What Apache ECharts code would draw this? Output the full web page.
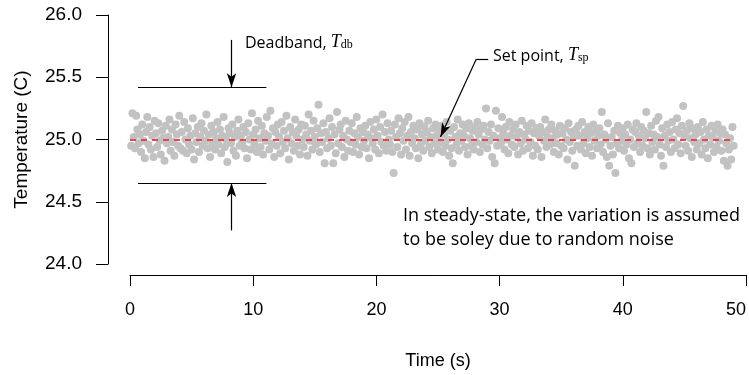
<!DOCTYPE html>
<html>
<head>
<meta charset="utf-8">
<script src="https://cdn.jsdelivr.net/npm/echarts@6/dist/echarts.min.js"></script>
<style>html,body{margin:0;padding:0;background:#fff}#c{width:749px;height:375px}</style>
</head>
<body>
<div id="c"></div>
<script>
// Sample interval of the time series (s); samples start at one interval
const sampleInterval = 0.1;
// Temperature readings (C), 10 per second
const temperature = [
24.95,25.21,25.02,24.93,25.19,25.08,24.97,25.04,24.90,25.12,
24.99,24.85,25.06,25.18,24.96,25.10,24.92,25.03,24.86,25.15,
25.05,24.94,25.13,24.99,24.88,25.07,25.01,24.83,25.11,24.97,
25.02,25.16,24.91,25.08,24.98,24.87,25.12,25.04,24.95,25.19,
24.93,25.06,24.91,25.14,25.00,24.89,25.09,24.96,25.03,24.92,
25.17,24.84,25.05,24.98,25.10,24.90,25.02,25.13,24.95,25.07,
24.99,25.20,24.93,25.04,24.86,25.11,24.97,25.06,24.92,25.01,
25.14,24.96,25.08,24.89,25.03,25.18,24.94,25.00,24.82,25.09,
25.05,24.97,25.12,24.91,25.02,24.87,25.07,25.16,24.95,25.03,
24.98,25.10,24.93,25.06,24.85,25.13,25.00,24.92,25.21,25.04,
24.96,25.08,24.90,25.15,25.01,24.94,25.11,24.88,25.05,24.99,
25.18,25.03,24.92,25.23,24.97,25.09,24.86,25.06,24.95,25.12,
25.02,24.89,25.14,24.98,25.07,24.93,25.19,25.01,24.84,25.10,
24.97,25.06,24.91,25.16,25.03,24.95,25.08,24.88,25.12,25.00,
24.94,25.11,25.04,24.87,25.20,24.99,25.07,24.92,25.15,25.02,
24.96,25.09,25.28,24.90,25.05,24.98,25.13,24.81,25.06,24.93,
25.01,25.17,24.95,25.10,24.81,25.04,24.89,25.22,24.97,25.08,
25.12,24.94,25.03,24.86,25.15,25.00,24.91,25.07,24.98,25.13,
24.90,25.05,24.96,25.18,25.02,24.88,25.09,24.94,25.06,24.99,
25.11,24.93,25.04,24.85,25.14,25.01,24.97,25.08,24.92,25.16,
25.03,24.89,25.10,24.98,25.20,24.95,25.06,24.91,25.13,25.00,
24.96,25.07,24.90,24.73,25.12,25.02,24.94,25.17,25.05,24.88,
25.09,24.99,25.14,24.92,25.03,25.18,24.87,25.06,24.97,25.11,
25.01,24.93,25.08,24.85,25.13,24.96,25.04,24.91,25.10,24.99,
25.06,25.15,24.94,25.02,24.89,25.09,24.97,25.12,25.03,24.92,
25.08,24.98,25.11,24.90,25.04,24.95,25.14,25.00,24.87,25.07,
24.93,24.81,25.10,25.02,24.96,25.16,24.91,25.05,24.99,25.12,
25.03,24.94,25.09,24.88,25.13,25.01,24.95,25.07,24.92,25.10,
24.98,25.14,25.04,24.90,25.08,24.96,25.11,25.00,25.25,24.93,
25.06,24.99,25.12,24.86,25.03,24.81,25.23,24.95,25.09,25.01,
24.97,25.18,25.05,24.92,25.10,25.00,24.89,25.14,25.03,24.96,
25.08,24.94,25.12,25.02,24.88,25.06,24.97,25.15,24.91,25.04,
25.00,25.11,24.93,25.07,24.98,25.13,24.87,25.05,24.95,25.09,
24.92,25.03,25.10,24.86,25.06,24.99,25.16,24.94,25.02,25.08,
24.96,25.12,25.01,24.90,25.07,24.97,25.04,24.88,25.11,24.95,
25.05,24.93,25.09,25.00,24.84,25.13,24.98,25.06,24.91,25.02,
24.79,25.08,24.95,25.11,25.03,24.92,25.14,24.97,25.06,24.89,
25.01,25.10,24.94,25.05,24.87,25.12,24.99,25.07,24.93,25.03,
25.09,24.96,25.22,24.90,25.04,25.00,24.86,25.13,24.79,24.95,
25.02,24.88,25.07,24.73,24.97,25.11,24.93,25.05,24.99,25.09,
24.91,25.04,24.96,25.12,24.85,25.00,24.81,25.08,24.94,25.06,
25.13,24.97,25.03,24.90,25.10,24.95,25.07,25.01,25.22,24.93,
25.05,24.88,25.11,24.98,25.04,24.92,25.15,25.02,25.18,24.96,
24.87,25.09,24.79,25.03,24.94,25.12,24.99,25.06,24.90,25.14,
25.00,24.93,25.08,25.17,24.96,25.05,24.89,25.11,25.27,25.02,
24.95,25.07,24.91,25.13,25.01,24.86,25.09,24.98,25.04,24.92,
25.10,24.97,25.06,24.88,25.14,25.00,24.93,25.08,24.85,25.03,
24.96,25.11,25.02,24.90,25.07,24.94,25.12,24.99,25.05,24.91,
25.08,24.83,25.04,24.97,24.79,24.92,25.01,24.84,25.10,24.95
];
const xTicks = [0, 10, 20, 30, 40, 50];
const yTicks = [24.0, 24.5, 25.0, 25.5, 26.0];
const setPoint = 25.0;
const setPointSpan = [0, 48.9];
const deadbandUpper = 25.42;
const deadbandLower = 24.65;
const deadbandSpan = [0.65, 11.07];
const deadbandArrowX = 8.24;
const deadbandArrowTails = [25.80, 24.27];
const setPointLeader = [[29.08, 25.647], [28.11, 25.647], [25.2, 25.02]];

const points = temperature.map((v, i) => [+(sampleInterval * (i + 1)).toFixed(1), v]);

const axisFont = 'Liberation Sans';
const annFont = 'Open Sans';
const chart = echarts.init(document.getElementById('c'), null, {renderer: 'canvas'});
chart.setOption({
  animation: false,
  backgroundColor: '#fff',
  grid: {left: 130, right: 0, top: 15, bottom: 111, containLabel: false},
  xAxis: {
    type: 'value', min: xTicks[0], max: xTicks[xTicks.length - 1], interval: 10,
    offset: 11,
    axisLine: {onZero: false, lineStyle: {color: '#000', width: 1}},
    axisTick: {show: true, length: 11, lineStyle: {color: '#000'}},
    axisLabel: {color: '#000', fontFamily: axisFont, fontSize: 18, margin: 26, alignMaxLabel: 'right'},
    splitLine: {show: false},
    name: 'Time (s)', nameLocation: 'middle', nameGap: 77,
    nameTextStyle: {color: '#000', fontFamily: axisFont, fontSize: 18}
  },
  yAxis: {
    type: 'value', min: yTicks[0], max: yTicks[yTicks.length - 1], interval: 0.5,
    offset: 22,
    axisLine: {show: true, onZero: false, lineStyle: {color: '#000', width: 1}},
    axisTick: {show: true, length: 12, lineStyle: {color: '#000'}},
    axisLabel: {color: '#000', fontFamily: axisFont, fontSize: 19, margin: 26, formatter: v => v.toFixed(1)},
    splitLine: {show: false},
    name: 'Temperature (C)', nameLocation: 'middle', nameGap: 77, nameRotate: 90,
    nameTextStyle: {color: '#000', fontFamily: axisFont, fontSize: 19}
  },
  series: [{
    type: 'scatter',
    data: points,
    symbolSize: 8,
    itemStyle: {color: '#c2c2c2', opacity: 1},
    markLine: {
      silent: true,
      symbol: ['none', 'none'],
      label: {show: false},
      lineStyle: {color: '#000', width: 1.2, type: 'solid'},
      data: [
        [{coord: [setPointSpan[0], setPoint], lineStyle: {color: '#e8474d', width: 1.8, type: [6, 5]}}, {coord: [setPointSpan[1], setPoint]}],
        [{coord: [deadbandSpan[0], deadbandUpper]}, {coord: [deadbandSpan[1], deadbandUpper]}],
        [{coord: [deadbandSpan[0], deadbandLower]}, {coord: [deadbandSpan[1], deadbandLower]}],
        [{coord: [deadbandArrowX, deadbandArrowTails[0]]}, {coord: [deadbandArrowX, deadbandUpper], symbol: 'arrow', symbolSize: [7, 14]}],
        [{coord: [deadbandArrowX, deadbandArrowTails[1]]}, {coord: [deadbandArrowX, deadbandLower], symbol: 'arrow', symbolSize: [7, 14]}],
        [{coord: setPointLeader[0]}, {coord: setPointLeader[1]}],
        [{coord: setPointLeader[1]}, {coord: setPointLeader[2], symbol: 'arrow', symbolSize: [7, 14]}]
      ]
    }
  }],
  graphic: [
    {type: 'text', left: 245, top: 33, style: {
      text: '{a|Deadband, }{t|T}{s|db}',
      rich: {
        a: {fontFamily: annFont, fontSize: 16, fill: '#000', lineHeight: 24, verticalAlign: 'bottom'},
        t: {fontFamily: 'Liberation Serif', fontStyle: 'italic', fontSize: 18, fill: '#000', lineHeight: 24, verticalAlign: 'bottom'},
        s: {fontFamily: 'Liberation Serif', fontSize: 12, fill: '#000', lineHeight: 18, verticalAlign: 'bottom'}
      }
    }},
    {type: 'text', left: 493, top: 46, style: {
      text: '{a|Set point, }{t|T}{s|sp}',
      rich: {
        a: {fontFamily: annFont, fontSize: 16, fill: '#000', lineHeight: 24, verticalAlign: 'bottom'},
        t: {fontFamily: 'Liberation Serif', fontStyle: 'italic', fontSize: 18, fill: '#000', lineHeight: 24, verticalAlign: 'bottom'},
        s: {fontFamily: 'Liberation Serif', fontSize: 12, fill: '#000', lineHeight: 18, verticalAlign: 'bottom'}
      }
    }},
    {type: 'text', left: 403, top: 204, style: {
      text: 'In steady-state, the variation is assumed\nto be soley due to random noise',
      fontFamily: annFont, fontSize: 18, fill: '#000', lineHeight: 24
    }}
  ]
});
</script>
</body>
</html>
